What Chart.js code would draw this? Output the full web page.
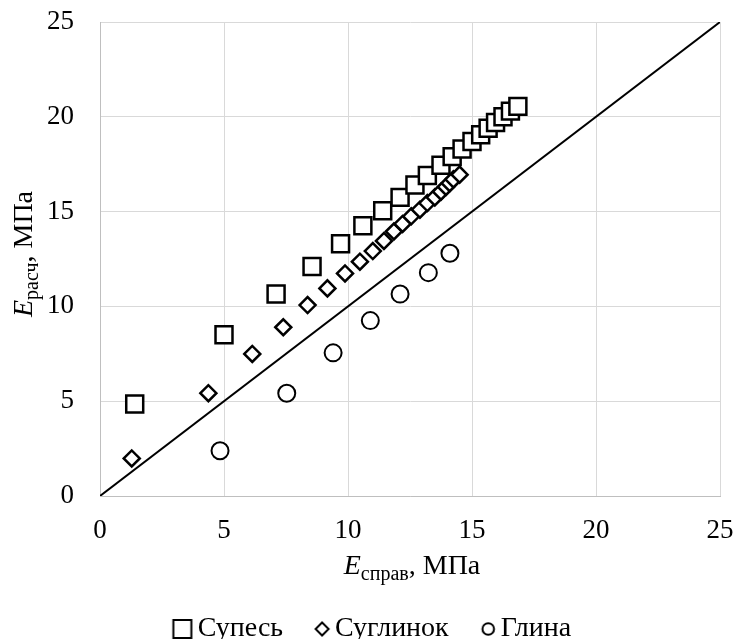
<!DOCTYPE html>
<html>
<head>
<meta charset="utf-8">
<script src="https://cdn.jsdelivr.net/npm/chart.js@4"></script>
<style>
  html, body { margin: 0; padding: 0; background: #fff; }
  #wrap { width: 737px; height: 639px; }
</style>
</head>
<body>
<div id="wrap"><canvas id="chart" width="737" height="639"></canvas></div>
<script>
// значения
const supesX = [1.4, 5.0, 7.1, 8.55, 9.7, 10.6, 11.4, 12.1, 12.7, 13.2, 13.75, 14.2, 14.6, 15.0, 15.35, 15.65, 15.95, 16.25, 16.55, 16.85];
const supesY = [4.85, 8.5, 10.65, 12.1, 13.3, 14.25, 15.05, 15.75, 16.4, 16.9, 17.45, 17.9, 18.3, 18.7, 19.05, 19.4, 19.7, 20.0, 20.3, 20.55];

const suglX = [1.28, 4.37, 6.14, 7.39, 8.37, 9.17, 9.88, 10.48, 11.0, 11.45, 11.85, 12.2, 12.55, 12.9, 13.2, 13.5, 13.75, 13.95, 14.1, 14.25, 14.5];
const suglY = [1.98, 5.42, 7.49, 8.9, 10.07, 10.95, 11.74, 12.36, 12.92, 13.45, 13.95, 14.35, 14.75, 15.1, 15.45, 15.75, 16.05, 16.3, 16.5, 16.7, 16.95];

const glinaX = [4.84, 7.53, 9.4, 10.9, 12.1, 13.24, 14.11];
const glinaY = [2.39, 5.42, 7.55, 9.25, 10.65, 11.78, 12.8];

const lineX = [0, 25];
const lineY = [0, 25];

const labels = ['Супесь', 'Суглинок', 'Глина'];
const axisMin = 0, axisMax = 25, axisStep = 5;

const FONT = "'Liberation Serif', 'Times New Roman', serif";

function toPoints(xs, ys) {
  return xs.map((x, i) => ({ x: x, y: ys[i] }));
}

// маленькие значки для легенды (размер как в Excel)
function legendIcon(style) {
  const c = document.createElement('canvas');
  c.width = 44;
  c.height = 30;
  const g = c.getContext('2d');
  g.strokeStyle = '#000';
  g.fillStyle = '#fff';
  g.lineWidth = 2;
  g.beginPath();
  if (style === 'rect') {
    g.rect(22 + 2.5 - 9, 15 - 9, 18, 18);
  } else if (style === 'rectRot') {
    const cx = 22 + 5, r = 6.5;
    g.moveTo(cx, 15 - r);
    g.lineTo(cx + r, 15);
    g.lineTo(cx, 15 + r);
    g.lineTo(cx - r, 15);
    g.closePath();
  } else {
    g.arc(22 + 5.5, 15, 5.8, 0, Math.PI * 2);
  }
  g.fill();
  g.stroke();
  return c;
}
const icons = [legendIcon('rect'), legendIcon('rectRot'), legendIcon('circle')];

// подписи осей с нижним индексом
const axisTitles = {
  id: 'axisTitles',
  afterDraw(chart) {
    const ctx = chart.ctx;
    const area = chart.chartArea;
    const drawTitle = (main, sub, rest) => {
      ctx.font = 'italic 28px ' + FONT;
      const w1 = ctx.measureText(main).width;
      ctx.font = '20px ' + FONT;
      const w2 = ctx.measureText(sub).width;
      ctx.font = '28px ' + FONT;
      const w3 = ctx.measureText(rest).width;
      let x = -(w1 + w2 + w3) / 2;
      ctx.fillStyle = '#000';
      ctx.textBaseline = 'alphabetic';
      ctx.textAlign = 'left';
      ctx.font = 'italic 28px ' + FONT;
      ctx.fillText(main, x, 0);
      x += w1;
      ctx.font = '20px ' + FONT;
      ctx.fillText(sub, x, 6);
      x += w2;
      ctx.font = '28px ' + FONT;
      ctx.fillText(rest, x, 0);
    };
    ctx.save();
    ctx.translate((area.left + area.right) / 2 + 2, 574);
    drawTitle('E', 'справ', ', МПа');
    ctx.restore();

    ctx.save();
    ctx.translate(32, 254);
    ctx.rotate(-Math.PI / 2);
    drawTitle('E', 'расч', ', МПа');
    ctx.restore();
  }
};

const ctx = document.getElementById('chart').getContext('2d');
new Chart(ctx, {
  type: 'scatter',
  data: {
    datasets: [
      {
        label: labels[0],
        data: toPoints(supesX, supesY),
        pointStyle: 'rect',
        pointRadius: 12,
        pointBorderWidth: 2.5,
        pointBackgroundColor: '#fff',
        pointBorderColor: '#000',
        borderColor: '#000',
        backgroundColor: '#fff'
      },
      {
        label: labels[1],
        data: toPoints(suglX, suglY),
        pointStyle: 'rectRot',
        pointRadius: 8,
        pointBorderWidth: 2.5,
        pointBackgroundColor: '#fff',
        pointBorderColor: '#000',
        borderColor: '#000',
        backgroundColor: '#fff'
      },
      {
        label: labels[2],
        data: toPoints(glinaX, glinaY),
        pointStyle: 'circle',
        pointRadius: 8.5,
        pointBorderWidth: 2,
        pointBackgroundColor: '#fff',
        pointBorderColor: '#000',
        borderColor: '#000',
        backgroundColor: '#fff'
      },
      {
        type: 'line',
        label: 'line',
        data: toPoints(lineX, lineY),
        borderColor: '#000',
        borderWidth: 2,
        pointRadius: 0,
        fill: false,
        order: 10
      }
    ]
  },
  options: {
    responsive: false,
    animation: false,
    layout: { padding: { top: 0, right: 0, left: 10, bottom: -14 } },
    plugins: {
      tooltip: { enabled: false },
      legend: {
        position: 'bottom',
        labels: {
          usePointStyle: true,
          boxWidth: 8,
          boxHeight: 8,
          padding: 30,
          color: '#000',
          font: { family: FONT, size: 28 },
          generateLabels: (chart) => {
            const items = Chart.defaults.plugins.legend.labels.generateLabels(chart);
            return items
              .filter((item) => item.text !== 'line')
              .map((item, i) => Object.assign(item, { pointStyle: icons[i] }));
          }
        }
      }
    },
    scales: {
      x: {
        type: 'linear',
        min: axisMin,
        max: axisMax,
        ticks: { stepSize: axisStep, padding: 19, color: '#000', font: { family: FONT, size: 27 } },
        grid: { color: '#d9d9d9', drawTicks: false },
        border: { color: '#bfbfbf' },
        afterFit: (scale) => {
          scale.height = 89;
          scale.paddingLeft = 0;
          scale.paddingRight = 17;
        }
      },
      y: {
        type: 'linear',
        min: axisMin,
        max: axisMax,
        ticks: { stepSize: axisStep, padding: 26, color: '#000', font: { family: FONT, size: 27 } },
        grid: { color: '#d9d9d9', drawTicks: false },
        border: { color: '#bfbfbf' },
        afterFit: (scale) => {
          scale.width = 90;
          scale.paddingTop = 22;
          scale.paddingBottom = 0;
        }
      }
    }
  },
  plugins: [axisTitles]
});
</script>
</body>
</html>
